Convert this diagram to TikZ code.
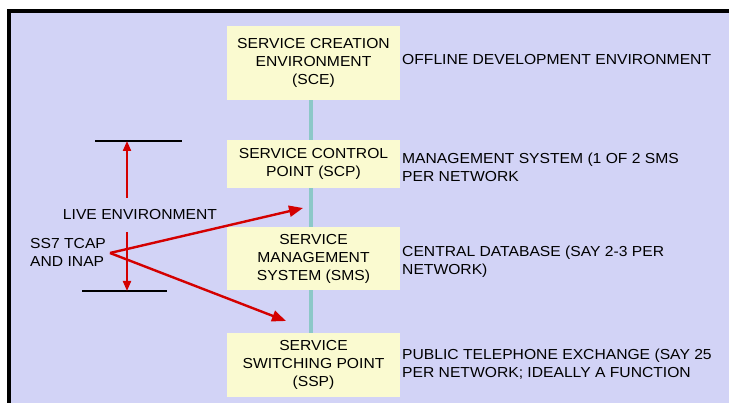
\documentclass[tikz,border=0pt]{standalone}
\usepackage{fontspec}
\setmainfont{Liberation Sans}
\newfontfamily\labelfont[FakeStretch=1.08]{Liberation Sans}
\usetikzlibrary{arrows.meta}
\definecolor{panel}{RGB}{210,211,246}
\definecolor{boxfill}{RGB}{250,250,208}
\definecolor{linkline}{RGB}{140,200,200}
\definecolor{signal}{RGB}{212,0,0}
\tikzset{
  txt/.style={font=\labelfont\fontsize{14.5}{18}\selectfont},
  unit/.style={txt, draw=none, fill=boxfill, minimum width=173pt, align=center, inner sep=0pt},
  note/.style={txt, anchor=west, align=left, inner sep=0pt},
  redarrow/.style={draw=signal, line width=2.4pt, -{Triangle[length=14pt,width=11pt]}},
  redtick/.style={draw=signal, line width=2pt, -{Triangle[length=10pt,width=8pt]}},
  limit/.style={draw=black, line width=1.8pt},
  linkbar/.style={draw=linkline, line width=3.5pt}
}
\begin{document}
\begin{tikzpicture}[x=1pt,y=-1pt]
  \useasboundingbox (0,0) rectangle (729,403);
  % page frame: lavender panel with black top and left edges
  \fill[white] (0,0) rectangle (729,403);
  \fill[panel] (9,11) rectangle (729,403);
  \fill[black] (7,9) rectangle (729,13);
  \fill[black] (7,9) rectangle (10.5,403);

  % network elements
  \node[unit, minimum height=74pt] (sce) at (313.5,63)
    {SERVICE CREATION\\ENVIRONMENT\\(SCE)};
  \node[unit, minimum height=48pt] (scp) at (313.5,164)
    {SERVICE CONTROL\\POINT (SCP)};
  \node[unit, minimum height=63pt] (sms) at (313.5,258.5)
    {SERVICE\\MANAGEMENT\\SYSTEM (SMS)};
  \node[unit, minimum height=64pt] (ssp) at (313.5,365)
    {SERVICE\\SWITCHING POINT\\(SSP)};

  % vertical link between the elements
  \draw[linkbar] ([xshift=-2.5pt]sce.south) -- ([xshift=-2.5pt]scp.north);
  \draw[linkbar] ([xshift=-2.5pt]scp.south) -- ([xshift=-2.5pt]sms.north);
  \draw[linkbar] ([xshift=-2.5pt]sms.south) -- ([xshift=-2.5pt]ssp.north);

  % descriptions
  \node[note] (offdev) at (402,60) {OFFLINE DEVELOPMENT ENVIRONMENT};
  \node[note] (mgmt) at (402,167) {MANAGEMENT SYSTEM (1 OF 2 SMS\\PER NETWORK};
  \node[note] (cdb) at (402,262) {CENTRAL DATABASE (SAY 2-3 PER\\NETWORK)};
  \node[note] (pte) at (402,364) {PUBLIC TELEPHONE EXCHANGE (SAY 25\\PER NETWORK; IDEALLY A FUNCTION};

  % live environment extent
  \coordinate (ta) at (95,141);
  \coordinate (tb) at (182,141);
  \coordinate (ba) at (82,291);
  \coordinate (bb) at (167,291);
  \draw[limit] (ta) -- (tb);
  \draw[limit] (ba) -- (bb);
  \node[txt, inner sep=0pt] (live) at (140,215) {LIVE ENVIRONMENT};
  \coordinate (upfrom) at (127,198);
  \coordinate (upto) at (127,141);
  \coordinate (dnfrom) at (127,232);
  \coordinate (dnto) at (127,291);
  \draw[redtick] (upfrom) -- (upto);
  \draw[redtick] (dnfrom) -- (dnto);

  % signalling protocols
  \node[note] (ss7) at (30,252) {SS7 TCAP\\AND INAP};
  \coordinate (src) at (110,253);
  \coordinate (toscp) at (303,208);
  \coordinate (tossp) at (286,321);
  \draw[redarrow] (src) -- (toscp);
  \draw[redarrow] (src) -- (tossp);
\end{tikzpicture}
\end{document}
